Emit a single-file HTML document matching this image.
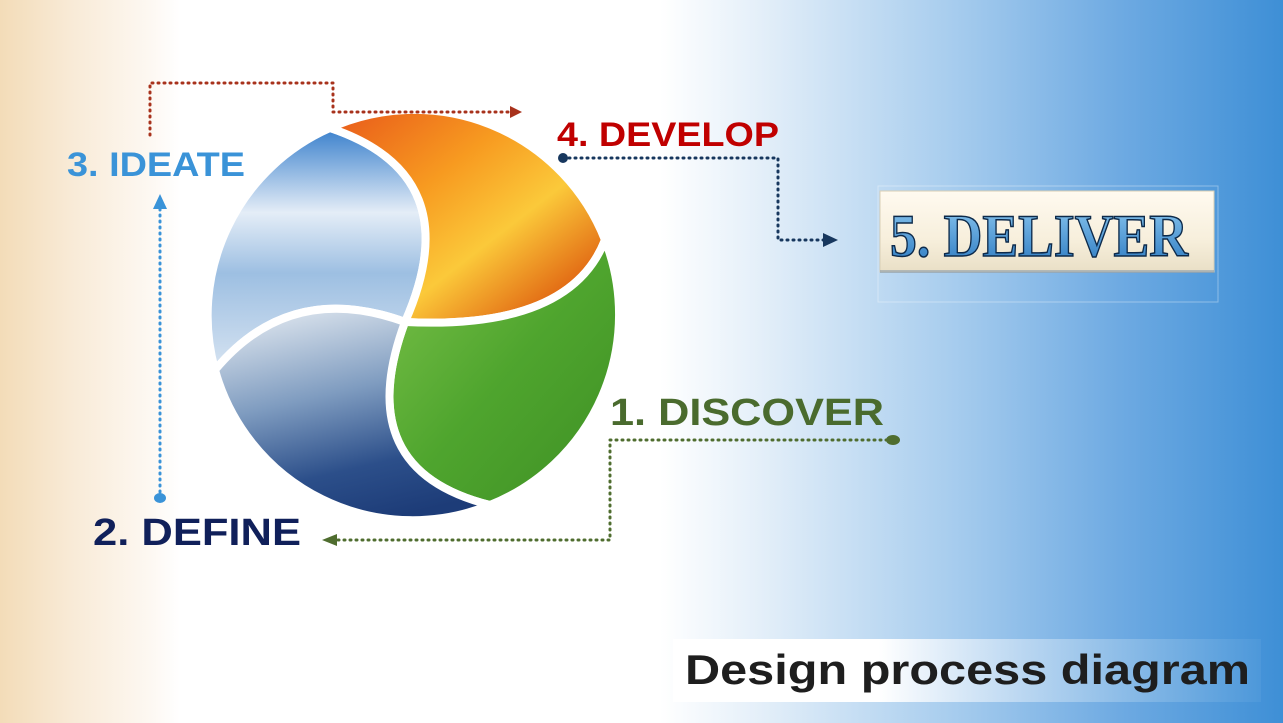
<!DOCTYPE html>
<html><head><meta charset="utf-8"><style>
html,body{margin:0;padding:0}
body{width:1283px;height:723px;overflow:hidden;position:relative;
background:linear-gradient(90deg,#f3dcb8 0px,#f8ead6 70px,#fdf8f2 150px,#ffffff 180px,#ffffff 660px,#e4eff9 760px,#a8cdee 950px,#6eaae2 1120px,#3e8fd6 1283px);
font-family:"Liberation Sans",sans-serif}
svg{position:absolute;left:0;top:0}
</style></head><body>
<svg width="1283" height="723" viewBox="0 0 1283 723">
<defs>
<linearGradient id="sky" x1="0.3" y1="0" x2="0.3" y2="1">
<stop offset="0" stop-color="#3a80cc"/><stop offset="0.35" stop-color="#e4edf7"/><stop offset="0.6" stop-color="#9dbfe2"/><stop offset="1" stop-color="#d6e3f1"/></linearGradient>
<linearGradient id="fire" x1="0" y1="0" x2="1" y2="1">
<stop offset="0" stop-color="#e8571a"/><stop offset="0.35" stop-color="#f79a20"/><stop offset="0.6" stop-color="#fbc93a"/><stop offset="0.85" stop-color="#e26a14"/><stop offset="1" stop-color="#8a2a10"/></linearGradient>
<linearGradient id="grass" x1="0" y1="0" x2="1" y2="1">
<stop offset="0" stop-color="#7cc24a"/><stop offset="0.5" stop-color="#4fa52e"/><stop offset="1" stop-color="#3e8f24"/></linearGradient>
<linearGradient id="water" x1="0.3" y1="0" x2="0.6" y2="1">
<stop offset="0" stop-color="#d9e2ec"/><stop offset="0.4" stop-color="#7f9cc0"/><stop offset="0.75" stop-color="#2c4f8a"/><stop offset="1" stop-color="#1d3c78"/></linearGradient>
<linearGradient id="box" x1="0" y1="0" x2="0" y2="1">
<stop offset="0" stop-color="#fffaf0"/><stop offset="0.6" stop-color="#f7efdc"/><stop offset="1" stop-color="#e9dfc6"/></linearGradient>
<linearGradient id="txt" x1="0" y1="0" x2="0" y2="1">
<stop offset="0" stop-color="#8cc8f0"/><stop offset="1" stop-color="#2a78c0"/></linearGradient>
<linearGradient id="cap" x1="0" y1="0" x2="1" y2="0">
<stop offset="0" stop-color="#ffffff"/><stop offset="0.35" stop-color="#ffffff"/><stop offset="0.6" stop-color="#b9d6f1"/><stop offset="1" stop-color="#4d98da"/></linearGradient>
</defs>

<g stroke="#ffffff" stroke-width="8" stroke-linejoin="round">
<path d="M405,322 Q470,175 330,128 A205,205 0 0 0 215,370 Q290,280 405,322 Z" fill="url(#sky)"/>
<path d="M405,322 Q570,330 605,240 A205,205 0 0 0 330,128 Q470,175 405,322 Z" fill="url(#fire)"/>
<path d="M405,322 Q350,470 490,505 A205,205 0 0 0 605,240 Q570,330 405,322 Z" fill="url(#grass)"/>
<path d="M405,322 Q290,280 215,370 A205,205 0 0 0 490,505 Q350,470 405,322 Z" fill="url(#water)"/>
</g>

<g fill="none" stroke-width="3" stroke-dasharray="1 5" stroke-linecap="round">
<path d="M150,135 V83 H333 V112 H512" stroke="#a8321c"/>
<path d="M563,158 H778 V240 H825" stroke="#17375e"/>
<path d="M893,440 H610 V540 H335" stroke="#4f6d2f"/>
<path d="M160,498 V205" stroke="#3a93d8"/>
</g>
<polygon points="510,106 522,112 510,118" fill="#a8321c"/>
<polygon points="823,233 838,240 823,247" fill="#17375e"/>
<polygon points="337,534 322,540 337,546" fill="#4f6d2f"/>
<polygon points="153,209 160,194 167,209" fill="#3a93d8"/>
<circle cx="563" cy="158" r="5" fill="#17375e"/>
<ellipse cx="893" cy="440" rx="7" ry="5" fill="#4f6d2f"/>
<ellipse cx="160" cy="498" rx="6" ry="5" fill="#3a93d8"/>

<g font-family="Liberation Sans, sans-serif" font-weight="bold">
<text x="67" y="176" font-size="34" fill="#3a93d8" textLength="178" lengthAdjust="spacingAndGlyphs">3. IDEATE</text>
<text x="557" y="146" font-size="34" fill="#c00000" textLength="222" lengthAdjust="spacingAndGlyphs">4. DEVELOP</text>
<text x="610" y="425" font-size="38" fill="#4a6b2e" textLength="274" lengthAdjust="spacingAndGlyphs">1. DISCOVER</text>
<text x="93" y="545" font-size="38" fill="#10205a" textLength="208" lengthAdjust="spacingAndGlyphs">2. DEFINE</text>
</g>

<rect x="878" y="186" width="340" height="116" fill="none" stroke="#ffffff" stroke-opacity="0.35"/>
<rect x="880" y="191" width="334" height="81" fill="url(#box)" stroke="#d9cfb5" stroke-width="1"/>
<rect x="880" y="270" width="334" height="3" fill="#7a8fa5" opacity="0.5"/>
<text x="890" y="256" font-family="Liberation Serif, serif" font-weight="bold" font-size="60" fill="url(#txt)" stroke="#0d2a4a" stroke-width="1.5" textLength="298" lengthAdjust="spacingAndGlyphs">5. DELIVER</text>

<rect x="673" y="639" width="588" height="63" fill="url(#cap)"/>
<text x="685" y="684" font-family="Liberation Sans, sans-serif" font-weight="bold" font-size="42" fill="#1e1e1e" textLength="565" lengthAdjust="spacingAndGlyphs">Design process diagram</text>
</svg>
</body></html>
